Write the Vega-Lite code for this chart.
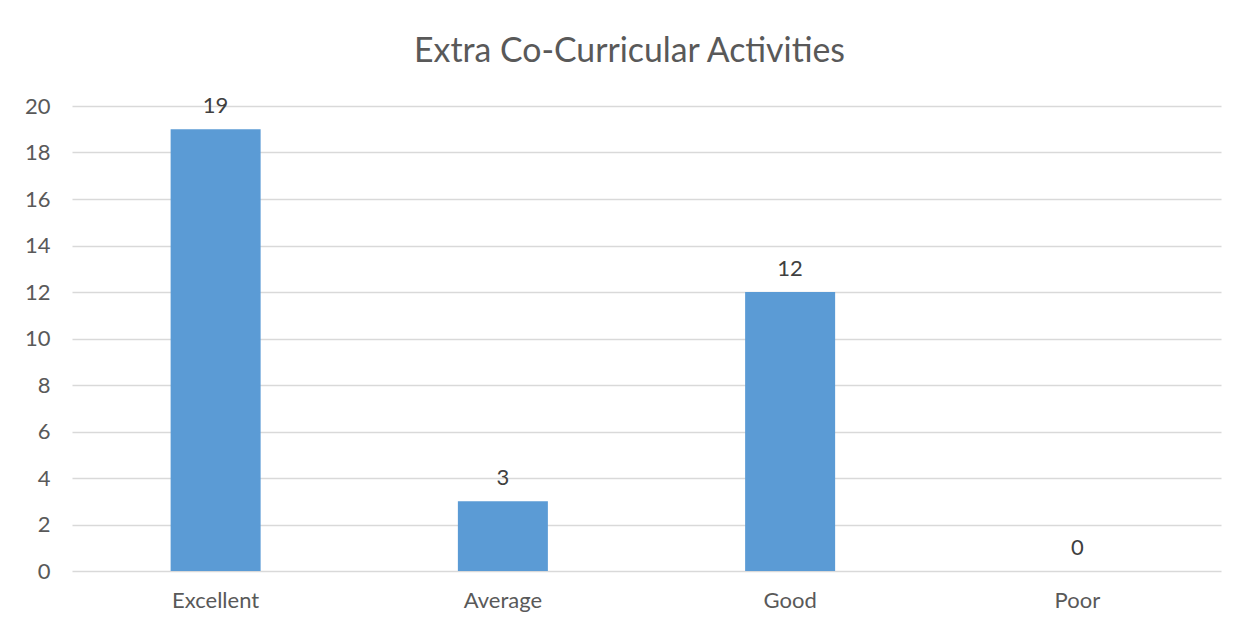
{
  "$schema": "https://vega.github.io/schema/vega-lite/v6.json",
  "autosize": {"type": "none"},
  "width": 1149,
  "height": 465,
  "padding": {"left": 72, "top": 106, "right": 26, "bottom": 57},
  "background": "white",
  "title": {
    "text": "Extra Co-Curricular Activities",
    "font": "Lato",
    "fontSize": 33.8,
    "fontWeight": "normal",
    "color": "#595959",
    "anchor": "middle",
    "frame": "group",
    "baseline": "alphabetic",
    "offset": -1,
    "dx": -17
  },
  "data": {
    "values": [
      {"rating": "Excellent", "count": 19},
      {"rating": "Average", "count": 3},
      {"rating": "Good", "count": 12},
      {"rating": "Poor", "count": 0}
    ]
  },
  "config": {
    "view": {"stroke": null},
    "font": "Lato"
  },
  "encoding": {
    "x": {
      "field": "rating",
      "type": "nominal",
      "sort": null,
      "scale": {"paddingInner": 0, "paddingOuter": 0},
      "axis": {
        "title": null,
        "labelAngle": 0,
        "labelFont": "Lato",
        "labelFontSize": 22,
        "labelColor": "#595959",
        "labelPadding": 19,
        "ticks": false,
        "domain": false,
        "grid": false
      }
    },
    "y": {
      "field": "count",
      "type": "quantitative",
      "scale": {"domain": [0, 20]},
      "axis": {
        "title": null,
        "values": [0, 2, 4, 6, 8, 10, 12, 14, 16, 18, 20],
        "labelFont": "Lato",
        "labelFontSize": 22,
        "labelColor": "#595959",
        "labelPadding": 22,
        "ticks": false,
        "domain": false,
        "grid": true,
        "gridColor": "#D9D9D9",
        "gridWidth": 1.5
      }
    }
  },
  "layer": [
    {
      "mark": {"type": "bar", "size": 90, "color": "#5B9BD5"}
    },
    {
      "mark": {
        "type": "text",
        "baseline": "alphabetic",
        "dy": -16,
        "font": "Lato",
        "fontSize": 22,
        "color": "#404040"
      },
      "encoding": {"text": {"field": "count", "type": "quantitative"}}
    }
  ]
}
